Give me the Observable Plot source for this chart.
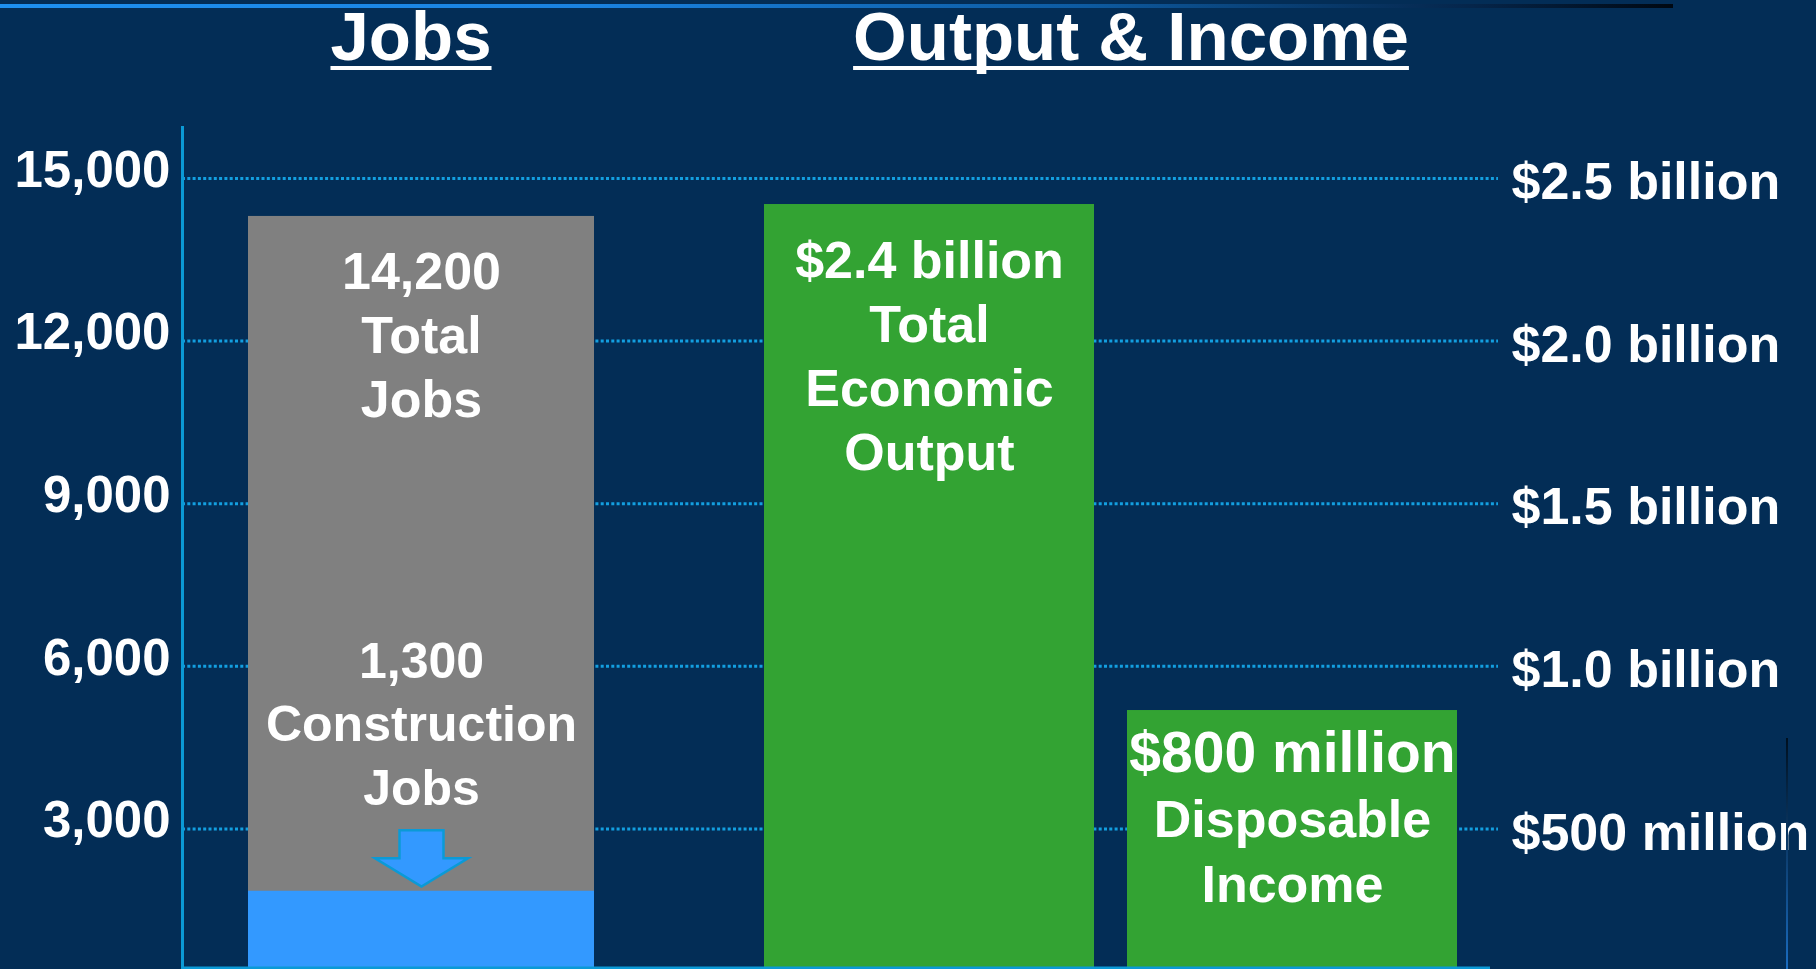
<!DOCTYPE html>
<html>
<head>
<meta charset="utf-8">
<script src="https://cdn.jsdelivr.net/npm/d3@7"></script>
<script src="https://cdn.jsdelivr.net/npm/@observablehq/plot@0.6"></script>
<style>
  html, body { margin: 0; padding: 0; background: #032d56; overflow: hidden; }
  #page { position: relative; width: 1816px; height: 969px; background: #032d56;
          font-family: "Liberation Sans", Arial, Helvetica, sans-serif; }
  #charts { position: absolute; left: 0; top: 0; display: flex; }
  #topline { position: absolute; left: 0; top: 4px; width: 1673px; height: 3.5px;
             background: linear-gradient(to right, #1e90f0 0%, #1a82e0 35%, #0d5aa0 65%, #05254a 88%, #000812 100%); }
  .title { position: absolute; top: 2px; color: #fff; font-weight: bold; font-size: 69px; line-height: 69px;
           white-space: nowrap; transform: translateX(-50%);
           text-decoration: underline; text-decoration-thickness: 4px; text-underline-offset: 6px;
           text-decoration-skip-ink: none; }
  #edge { position: absolute; left: 1786px; top: 738px; width: 2px; height: 231px;
          background: linear-gradient(to bottom, #00101f, #1a6cc0); }
</style>
</head>
<body>
<div id="page">
  <div id="topline"></div>
  <div id="charts"></div>
  <div class="title" id="t1" style="left:411px">Jobs</div>
  <div class="title" id="t2" style="left:1131px">Output &amp; Income</div>
  <div id="edge"></div>
</div>
<script>
// ---------- data ----------
const jobTicks = [3000, 6000, 9000, 12000, 15000];
const dollarTicks = [0.5, 1.0, 1.5, 2.0, 2.5];            // billions
const dollarTickLabels = ["$500 million", "$1.0 billion", "$1.5 billion", "$2.0 billion", "$2.5 billion"];

const jobCategories = ["Total Jobs"];
const totalJobs = [14300];                                // bar height
const constructionJobs = [1850];                          // bar height
const totalJobsLabels = ["14,200\nTotal\nJobs"];
const constructionLabels = ["1,300\nConstruction\nJobs"];

const incomeCategories = ["Total Economic Output", "Disposable Income"];
const incomeBillions = [2.42, 0.864];                     // bar heights
const incomeHeadlines = ["$2.4 billion", "$800 million"];
const incomeCaptions = ["Total\nEconomic\nOutput", "Disposable\nIncome"];

// the two axes share the same gridlines: 15,000 jobs <-> $2.5 billion
const jobsPerBillion = d3.max(jobTicks) / d3.max(dollarTicks);

const jobsRows = jobCategories.map((category, i) => ({
  category, total: totalJobs[i], construction: constructionJobs[i],
  label: totalJobsLabels[i], constructionLabel: constructionLabels[i]
}));
const incomeRows = incomeCategories.map((category, i) => ({
  category, value: incomeBillions[i] * jobsPerBillion,
  headline: incomeHeadlines[i], caption: incomeCaptions[i]
}));
const dollarLabelByValue = new Map(dollarTicks.map((d, i) => [d * jobsPerBillion, dollarTickLabels[i]]));
const jobsFormat = d3.format(",");

// ---------- styles ----------
const H = 969;
const FONT = "'Liberation Sans', Arial, Helvetica, sans-serif";
const GRID = "#139fe0";
const AXIS = "#0b9ad6";
const GRAY = "#808080";
const BLUE = "#3399ff";
const GREEN = "#33a333";
const yScale = {domain: [0, 15000], range: [991, 178]};
const svgStyle = {background: "transparent", color: "white", fontFamily: FONT, overflow: "hidden"};
const gridOpts = {stroke: GRID, strokeWidth: 3, strokeDasharray: "3,2.3"};

const downArrow = {
  draw(ctx) {
    ctx.moveTo(-22, -61); ctx.lineTo(22, -61); ctx.lineTo(22, -33);
    ctx.lineTo(46.5, -33); ctx.lineTo(0, -4.7); ctx.lineTo(-46.5, -33);
    ctx.lineTo(-22, -33); ctx.closePath();
  }
};

// ---------- left panel: Jobs ----------
const jobsPlot = Plot.plot({
  width: 680, height: H,
  marginLeft: 182, marginRight: 0, marginTop: 127, marginBottom: 0,
  style: svgStyle,
  x: {type: "band", domain: jobCategories, range: [248, 594], padding: 0, axis: null},
  y: yScale,
  marks: [
    Plot.ruleY(jobTicks, gridOpts),
    Plot.barY(jobsRows, {x: "category", y: "total", fill: GRAY}),
    Plot.barY(jobsRows, {x: "category", y: "construction", fill: BLUE}),
    Plot.dot(jobsRows, {x: "category", y: "construction", symbol: downArrow, r: 1,
                        fill: BLUE, stroke: AXIS, strokeWidth: 2.5}),
    Plot.text(jobsRows, {x: "category", y: "total", text: "label", lineAnchor: "top",
                         lineHeight: 1.23, dy: 27.5, fontSize: 52, fontWeight: "bold", fill: "white"}),
    Plot.text(jobsRows, {x: "category", y: "construction", text: "constructionLabel", lineAnchor: "bottom",
                         lineHeight: 1.27, dy: -86.5, fontSize: 50, fontWeight: "bold", fill: "white"}),
    Plot.axisY(jobTicks, {anchor: "left", tickSize: 0, tickPadding: 12, tickFormat: d => jobsFormat(d), label: null,
                          fontSize: 51, fontWeight: "bold", color: "white", dy: -8}),
    Plot.frame({anchor: "left", stroke: AXIS, strokeWidth: 3}),
    Plot.frame({anchor: "bottom", stroke: AXIS, strokeWidth: 3, insetBottom: 1.5})
  ]
});

// ---------- right panel: Output & Income ----------
const incomePlot = Plot.plot({
  width: 1136, height: H,
  marginLeft: 0, marginRight: 318, marginTop: 127, marginBottom: 0,
  style: svgStyle,
  x: {type: "band", domain: incomeCategories, range: [84, 777.5], paddingInner: 0.092, paddingOuter: 0, axis: null},
  y: yScale,
  marks: [
    Plot.ruleY(dollarTicks.map(d => d * jobsPerBillion), gridOpts),
    Plot.barY(incomeRows, {x: "category", y: "value", fill: GREEN}),
    Plot.text(incomeRows.filter((d, i) => i === 0), {x: "category", y: "value",
      text: d => d.headline + "\n" + d.caption, lineAnchor: "top", lineHeight: 1.235, dy: 27.7,
      fontSize: 52, fontWeight: "bold", fill: "white"}),
    Plot.text(incomeRows.filter((d, i) => i === 1), {x: "category", y: "value",
      text: "headline", lineAnchor: "top", lineHeight: 1, dy: 21.2,
      fontSize: 57, fontWeight: "bold", fill: "white"}),
    Plot.text(incomeRows.filter((d, i) => i === 1), {x: "category", y: "value",
      text: "caption", lineAnchor: "top", lineHeight: 1.24, dy: 80.9,
      fontSize: 52, fontWeight: "bold", fill: "white"}),
    Plot.axisY(dollarTicks.map(d => d * jobsPerBillion), {anchor: "right", tickSize: 0, tickPadding: 13,
      tickFormat: v => dollarLabelByValue.get(v), label: null,
      fontSize: 52, fontWeight: "bold", color: "white", dy: 4}),
    Plot.frame({anchor: "bottom", stroke: AXIS, strokeWidth: 3, insetBottom: 1.5, insetRight: 10})
  ]
});

document.getElementById("charts").append(jobsPlot, incomePlot);
</script>
</body>
</html>
